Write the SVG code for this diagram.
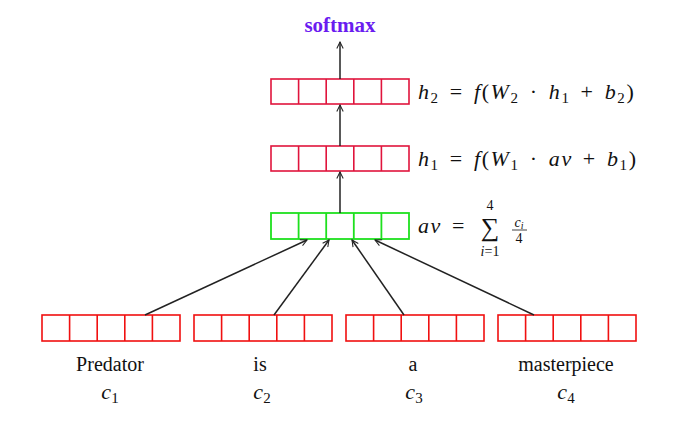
<svg xmlns="http://www.w3.org/2000/svg" width="677" height="424" viewBox="0 0 677 424">
<defs>
<marker id="ah" viewBox="0 0 10 10" refX="9" refY="5" markerWidth="8" markerHeight="8" markerUnits="userSpaceOnUse" orient="auto"><path d="M1,1 L9,5 L1,9" fill="none" stroke="#222" stroke-width="1.3"/></marker>
</defs>
<style>
.r{fill:none;stroke:#e0143c;stroke-width:1.6}
.red{fill:none;stroke:#f01010;stroke-width:1.6}
.g{fill:none;stroke:#1ee01e;stroke-width:1.8}
text{font-family:"Liberation Serif","DejaVu Serif",serif;font-size:20px;fill:#111}
.f{font-size:22px}
.eq{letter-spacing:1.6px;word-spacing:3px}
.m{font-style:italic}
.con{stroke:#222;stroke-width:1.5;fill:none;marker-end:url(#ah)}
</style>
<text x="340" y="32" text-anchor="middle" style="font-weight:bold;fill:#6a1cf0;font-size:21px">softmax</text>
<g id="h2"><rect class="r" x="271" y="79" width="138" height="25"/><path class="r" d="M298.6,79v25M326.2,79v25M353.8,79v25M381.4,79v25"/>
<text x="418" y="99" class="m f eq">h<tspan font-size="15" dy="4" font-style="normal">2</tspan><tspan dy="-4" font-style="normal"> = </tspan>f<tspan font-style="normal">(</tspan>W<tspan font-size="15" dy="4" font-style="normal">2</tspan><tspan dy="-4" font-style="normal"> · </tspan>h<tspan font-size="15" dy="4" font-style="normal">1</tspan><tspan dy="-4" font-style="normal"> + </tspan>b<tspan font-size="15" dy="4" font-style="normal">2</tspan><tspan dy="-4" font-style="normal">)</tspan></text></g>
<g id="h1"><rect class="r" x="271" y="146" width="138" height="25"/><path class="r" d="M298.6,146v25M326.2,146v25M353.8,146v25M381.4,146v25"/>
<text x="418" y="166" class="m f eq">h<tspan font-size="15" dy="4" font-style="normal">1</tspan><tspan dy="-4" font-style="normal"> = </tspan>f<tspan font-style="normal">(</tspan>W<tspan font-size="15" dy="4" font-style="normal">1</tspan><tspan dy="-4" font-style="normal"> · </tspan>av<tspan font-style="normal"> + </tspan>b<tspan font-size="15" dy="4" font-style="normal">1</tspan><tspan dy="-4" font-style="normal">)</tspan></text></g>
<g id="av"><rect class="g" x="271" y="213" width="138" height="26"/><path class="g" d="M298.6,213v26M326.2,213v26M353.8,213v26M381.4,213v26"/>
<text x="418" y="233" class="m f eq">av<tspan font-style="normal"> =</tspan></text>
<text x="490" y="236" text-anchor="middle" style="font-size:26px">∑</text>
<text x="490" y="210" text-anchor="middle" style="font-size:14px">4</text>
<text x="490" y="256" text-anchor="middle" style="font-size:14px" class="m">i<tspan font-style="normal">=1</tspan></text>
<text x="519" y="227" text-anchor="middle" style="font-size:14px" class="m">c<tspan font-size="10" dy="2">i</tspan></text>
<line x1="512" y1="230" x2="527" y2="230" stroke="#111" stroke-width="0.8"/>
<text x="519" y="243" text-anchor="middle" style="font-size:14px">4</text></g>
<g id="w1"><rect class="red" x="42" y="315" width="138" height="26"/><path class="red" d="M69.6,315v26M97.2,315v26M124.8,315v26M152.4,315v26"/>
<text x="110" y="371" text-anchor="middle">Predator</text><text x="110" y="399" text-anchor="middle" class="m f">c<tspan font-size="15" dy="4" font-style="normal">1</tspan></text></g>
<g id="w2"><rect class="red" x="194" y="315" width="138" height="26"/><path class="red" d="M221.6,315v26M249.2,315v26M276.8,315v26M304.4,315v26"/>
<text x="260" y="371" text-anchor="middle">is</text><text x="262" y="399" text-anchor="middle" class="m f">c<tspan font-size="15" dy="4" font-style="normal">2</tspan></text></g>
<g id="w3"><rect class="red" x="346" y="315" width="138" height="26"/><path class="red" d="M373.6,315v26M401.2,315v26M428.8,315v26M456.4,315v26"/>
<text x="413" y="371" text-anchor="middle">a</text><text x="414" y="399" text-anchor="middle" class="m f">c<tspan font-size="15" dy="4" font-style="normal">3</tspan></text></g>
<g id="w4"><rect class="red" x="498" y="315" width="138" height="26"/><path class="red" d="M525.6,315v26M553.2,315v26M580.8,315v26M608.4,315v26"/>
<text x="566" y="371" text-anchor="middle">masterpiece</text><text x="566" y="399" text-anchor="middle" class="m f">c<tspan font-size="15" dy="4" font-style="normal">4</tspan></text></g>
<g id="connectors">
<line class="con" x1="340" y1="79" x2="340" y2="42"/>
<line class="con" x1="340" y1="146" x2="340" y2="105"/>
<line class="con" x1="340" y1="213" x2="340" y2="172"/>
<line class="con" x1="145" y1="315" x2="307" y2="240"/>
<line class="con" x1="274" y1="315" x2="329" y2="240"/>
<line class="con" x1="404" y1="315" x2="352" y2="240"/>
<line class="con" x1="534" y1="315" x2="375" y2="240"/>
</g>
</svg>
